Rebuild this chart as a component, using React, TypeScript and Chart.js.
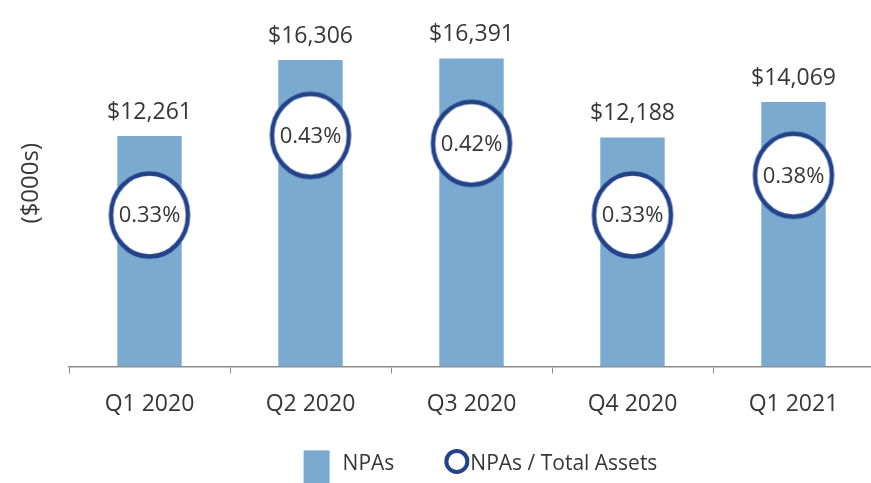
import React, { useEffect, useRef } from "react";
import { Chart, registerables } from "chart.js";

Chart.register(...registerables);

const categories = ["Q1 2020", "Q2 2020", "Q3 2020", "Q4 2020", "Q1 2021"];
const npaValues = [12261, 16306, 16391, 12188, 14069];
const ratioValues = [0.33, 0.43, 0.42, 0.33, 0.38];
const seriesNames = ["NPAs", "NPAs / Total Assets"];
const yTitle = "($000s)";

const BAR_COLOR = "#7aaacf";
const RING_COLOR = "#22428a";
const TEXT_COLOR = "#363636";
const FONT = "'Open Sans', sans-serif";

function makeEllipse(): HTMLCanvasElement {
  const c = document.createElement("canvas");
  c.width = 86;
  c.height = 92;
  const ctx = c.getContext("2d")!;
  ctx.beginPath();
  ctx.ellipse(43, 46, 38.5, 41.5, 0, 0, Math.PI * 2);
  ctx.fillStyle = "#ffffff";
  ctx.fill();
  ctx.lineWidth = 4.5;
  ctx.strokeStyle = RING_COLOR;
  ctx.stroke();
  return c;
}

const labelsPlugin = {
  id: "valueLabels",
  afterDatasetsDraw(chart: any) {
    const ctx = chart.ctx;
    ctx.save();
    ctx.fillStyle = TEXT_COLOR;
    ctx.textAlign = "center";
    ctx.textBaseline = "middle";
    chart.data.datasets.forEach((ds: any, di: number) => {
      const meta = chart.getDatasetMeta(di);
      meta.data.forEach((el: any, i: number) => {
        if (ds.type === "bar") {
          ctx.font = `23px ${FONT}`;
          ctx.fillText("$" + ds.data[i].toLocaleString("en-US"), el.x, el.y - 24);
        } else {
          ctx.font = `22px ${FONT}`;
          ctx.fillText(ds.data[i].toFixed(2) + "%", el.x, el.y + 1);
        }
      });
    });
    ctx.restore();
  },
};

const legendPlugin = {
  id: "customLegend",
  afterDraw(chart: any) {
    const ctx = chart.ctx;
    const area = chart.chartArea;
    ctx.save();
    ctx.font = `21px ${FONT}`;
    const w1 = ctx.measureText(seriesNames[0]).width;
    const w2 = ctx.measureText(seriesNames[1]).width;
    const total = 26 + 13 + w1 + 50 + 25 + 1 + w2;
    const cy = area.bottom + 96;
    let x = (area.left + area.right) / 2 + 9 - total / 2;
    ctx.fillStyle = BAR_COLOR;
    ctx.fillRect(x, cy - 12, 26, 40);
    x += 26 + 13;
    ctx.fillStyle = TEXT_COLOR;
    ctx.textAlign = "left";
    ctx.textBaseline = "middle";
    ctx.fillText(seriesNames[0], x, cy + 2);
    x += w1 + 50;
    ctx.beginPath();
    ctx.ellipse(x + 12.5, cy - 1, 10.5, 10.5, 0, 0, Math.PI * 2);
    ctx.lineWidth = 4;
    ctx.strokeStyle = RING_COLOR;
    ctx.stroke();
    x += 25 + 1;
    ctx.fillStyle = TEXT_COLOR;
    ctx.fillText(seriesNames[1], x, cy + 2);
    ctx.restore();
  },
};

export default function App() {
  const ref = useRef<HTMLCanvasElement>(null);
  useEffect(() => {
    if (!ref.current) return;
    const ellipse = makeEllipse();
    const chart = new Chart(ref.current, {
      type: "bar",
      data: {
        labels: categories,
        datasets: [
          {
            type: "line",
            label: seriesNames[1],
            data: ratioValues,
            yAxisID: "y1",
            showLine: false,
            pointStyle: ellipse as any,
            pointRadius: 1,
            clip: false,
            order: 0,
          } as any,
          {
            type: "bar",
            label: seriesNames[0],
            data: npaValues,
            yAxisID: "y",
            backgroundColor: BAR_COLOR,
            borderWidth: 0,
            categoryPercentage: 1,
            barPercentage: 0.4,
            order: 1,
          },
        ],
      },
      options: {
        responsive: false,
        animation: false,
        layout: { autoPadding: false, padding: { left: 0, right: 6, top: 0, bottom: 48 } },
        plugins: {
          legend: { display: false },
          tooltip: { enabled: false },
        },
        scales: {
          x: {
            offset: true,
            grid: {
              display: true,
              offset: true,
              drawOnChartArea: false,
              drawTicks: true,
              tickLength: 7,
              color: "#8c8c8c",
            },
            border: { display: true, color: "#8c8c8c", width: 1.5 },
            ticks: {
              padding: 17,
              color: TEXT_COLOR,
              font: { family: FONT, size: 23 },
              maxRotation: 0,
            },
          },
          y: {
            min: 0,
            max: 19500,
            grid: { display: false },
            border: { display: false },
            ticks: { display: false },
            title: {
              display: true,
              text: yTitle,
              color: TEXT_COLOR,
              font: { family: FONT, size: 24 },
              padding: { top: 17, bottom: 0 },
            },
            afterFit(scale: any) {
              scale.width = 69;
            },
          },
          y1: {
            display: false,
            min: 0.14,
            max: 0.6,
          },
        },
      },
      plugins: [labelsPlugin, legendPlugin],
    });
    return () => chart.destroy();
  }, []);

  return (
    <div
      style={{
        position: "absolute",
        left: 0,
        top: 0,
        width: 871,
        height: 483,
        overflow: "hidden",
        background: "#fff",
      }}
    >
      <canvas ref={ref} width={880} height={483} style={{ width: 880, height: 483 }} />
    </div>
  );
}
